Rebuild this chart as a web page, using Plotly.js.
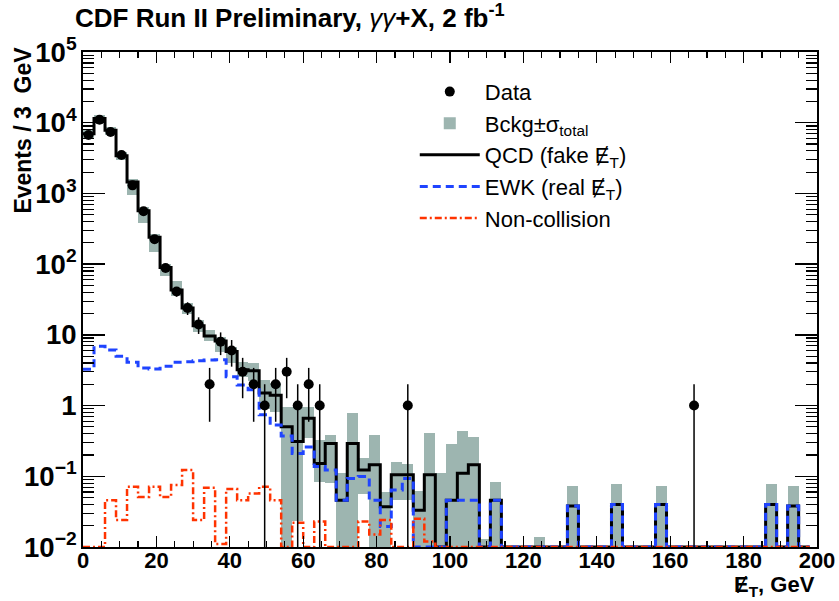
<!DOCTYPE html>
<html>
<head>
<meta charset="utf-8">
<script src="https://cdn.plot.ly/plotly-3.0.1.min.js"></script>
<style>html,body{margin:0;padding:0;background:#fff;}</style>
</head>
<body>
<div id="chart" style="width:839px;height:601px;"></div>
<script>
// ---- data (3 GeV bins, low edges 0..195, last edge 198) ----
const binEdges = [0,3,6,9,12,15,18,21,24,27,30,33,36,39,42,45,48,51,54,57,60,63,66,69,72,75,78,81,84,87,90,93,96,99,102,105,108,111,114,117,120,123,126,129,132,135,138,141,144,147,150,153,156,159,162,165,168,171,174,177,180,183,186,189,192,195,198];
const binCenters = [1.5,4.5,7.5,10.5,13.5,16.5,19.5,22.5,25.5,28.5,31.5,34.5,37.5,40.5,43.5,46.5,49.5,52.5,55.5,58.5,61.5,64.5,67.5,70.5,73.5,76.5,79.5,82.5,85.5,88.5,91.5,94.5,97.5,100.5,103.5,106.5,109.5,112.5,115.5,118.5,121.5,124.5,127.5,130.5,133.5,136.5,139.5,142.5,145.5,148.5,151.5,154.5,157.5,160.5,163.5,166.5,169.5,172.5,175.5,178.5,181.5,184.5,187.5,190.5,193.5,196.5];

// QCD (fake MET) histogram, drawn as the black solid line
const qcd = [7000,11500,7800,3400,1450,570,240,90,43,24,
  13.5,9.6,8.2,5.8,3.2,3.1,1.5,1.4,0.5,0.31,
  0.66,0.152,0.29,0.046,0.29,0.123,0.145,0.037,0.105,0.105,
  0.033,0.105,0,0.046,0.11,0.145,0,0.046,0,0,
  0,0,0,0,0.038,0,0,0,0.04,0,
  0,0,0.04,0,0,0,0,0,0,0,
  0,0,0.04,0,0.038,0];
// EWK (real MET)
const ewk = [3.26,6.9,6.1,5.0,4.1,3.4,3.3,3.6,4.1,4.15,
  4.3,4.4,4.45,2.56,1.95,1.67,0.74,0.53,0.37,0.21,
  0.26,0.137,0.123,0.046,0.093,0.099,0.046,0.0195,0.064,0.093,
  0,0,0,0.046,0.046,0.046,0,0.046,0,0,
  0,0,0,0,0.038,0,0,0,0.04,0,
  0,0,0.04,0,0,0,0,0,0,0,
  0,0,0.04,0,0.038,0];
// Non-collision
const noncoll = [0,0,0.046,0.024,0.071,0.051,0.071,0.051,0.075,0.123,
  0.024,0.069,0.011,0.066,0.046,0.057,0.071,0.046,0,0.022,
  0,0.023,0,0,0,0.023,0.015,0.024,0,0,
  0.025,0.012,0,0,0,0,0,0,0,0,
  0,0,0,0,0,0,0,0,0,0,
  0,0,0,0,0,0,0,0,0,0,
  0,0,0,0,0,0];
// Background +- sigma band: lower and upper edge per bin
const bandLow = [6000,10300,6700,2950,960,380,150,68,35,20,
  11,8.3,5.8,4.0,2.5,2.2,0.9,0.8,0,0.023,
  0.35,0.084,0.08,0,0,0.057,0,0,0.046,0.046,
  0,0,0,0,0,0,0,0,0,0,
  0,0,0,0,0,0,0,0,0,0,
  0,0,0,0,0,0,0,0,0,0,
  0,0,0,0,0,0];
const bandHigh = [7900,12800,8700,3800,1600,640,270,100,57,28,
  16,11.7,9.2,6.8,4.2,4.0,2.3,2.1,0.97,0.97,
  0.97,0.33,0.38,0.11,0.78,0.18,0.38,0.06,0.16,0.15,
  0.061,0.41,0.11,0.29,0.43,0.36,0.013,0.084,0,0,
  0,0.014,0,0,0.073,0,0,0,0.077,0,
  0,0,0.073,0,0,0,0,0,0,0,
  0,0,0.077,0,0.073,0];
// Data points
const dataX = [1.5,4.5,7.5,10.5,13.5,16.5,19.5,22.5,25.5,28.5,31.5,34.5,37.5,40.5,43.5,46.5,49.5,52.5,55.5,58.5,61.5,64.5,88.5,166.5];
const dataN = [6700,11000,7400,3500,1300,560,225,88,41,24,14,2,8,6,3,2,1,2,3,1,2,1,1,1];
const dataErr = [82,105,86,59,36,24,15,9.4,6.4,4.9,3.7,1.41,2.83,2.45,1.73,1.41,1,1.41,1.73,1,1.41,1,1,1];

// ---- helpers ----
const AXMIN = 0.01;
function stepY(vals){ const y = vals.map(v => v > 0 ? v : AXMIN); y.push(y[y.length-1]); return y; }

const bandBase = bandLow.map(v => v > 0 ? v : 1e-4);
const bandLen = bandHigh.map((h,i) => h > 0 ? h - bandBase[i] : null);

const traces = [
  {type:'bar', x: binCenters, y: bandLen, base: bandBase, width: 3,
   marker:{color:'#9db5b0', line:{width:0}}, name:'Bckg±σ<sub>total</sub>', legendrank:2, hoverinfo:'skip'},
  {type:'scatter', mode:'lines', x: binEdges, y: stepY(qcd), line:{shape:'hv', color:'#000', width:3},
   name:'QCD (fake Ɇ<sub>T</sub>)', legendrank:3},
  {type:'scatter', mode:'lines', x: binEdges, y: stepY(ewk), line:{shape:'hv', color:'#1f44ff', width:3, dash:'8px,5px'},
   name:'EWK (real Ɇ<sub>T</sub>)', legendrank:4},
  {type:'scatter', mode:'lines', x: binEdges, y: stepY(noncoll), line:{shape:'hv', color:'#ff3300', width:2.5, dash:'7px,3px,2px,3px'},
   name:'Non-collision', legendrank:5},
  {type:'scatter', mode:'markers', x: dataX, y: dataN, name:'Data', legendrank:1,
   marker:{color:'#000', size:10, symbol:'circle'},
   error_y:{type:'data', array: dataErr, visible:true, color:'#000', thickness:1.5, width:0}}
];

const FONT = 'Liberation Sans, Arial, DejaVu Sans, sans-serif';
const layout = {
  width:839, height:601,
  margin:{l:83, r:22, t:52, b:54},
  paper_bgcolor:'#fff', plot_bgcolor:'#fff',
  barmode:'overlay', bargap:0,
  showlegend:true,
  title:{text:'CDF Run II Preliminary, <span style="font-weight:normal"><i>γγ</i></span>+X, 2 fb<sup>-1</sup>',
    x:75/839, xanchor:'left', xref:'container', y:1-18/601, yanchor:'middle', yref:'container',
    font:{family:FONT, size:26, color:'#000', weight:'bold'}},
  xaxis:{range:[0,200], type:'linear', showgrid:false, zeroline:false,
    showline:true, linecolor:'#000', linewidth:2, mirror:'ticks',
    ticks:'inside', ticklen:11, tickwidth:1.3, tickcolor:'#000', dtick:20, tick0:0,
    ticklabelstandoff:-7,
    minor:{ticks:'inside', ticklen:6, dtick:5, tickwidth:1.2, tickcolor:'#000', showgrid:false},
    tickfont:{family:FONT, size:22, color:'#000', weight:'bold'}},
  yaxis:{type:'log', range:[-2,5], showgrid:false, zeroline:false,
    showline:true, linecolor:'#000', linewidth:2, mirror:'ticks',
    ticks:'inside', ticklen:22, tickwidth:1.3, tickcolor:'#000',
    tickmode:'linear', tick0:0, dtick:1, exponentformat:'power',
    minor:{ticks:'inside', ticklen:11, dtick:'D1', tickwidth:1.2, tickcolor:'#000', showgrid:false},
    tickfont:{family:FONT, size:22, color:'#000', weight:'bold'}},
  legend:{x:0.452, xanchor:'left', y:0.962, yanchor:'top', bgcolor:'rgba(0,0,0,0)',
    font:{family:FONT, size:22, color:'#000'}, itemwidth:60, tracegroupgap:0, traceorder:'normal'},
  annotations:[
    {xref:'paper', yref:'paper', x:-0.081, y:1.015, xanchor:'center', yanchor:'top', textangle:-90,
     text:'Events / 3  GeV', showarrow:false, font:{family:FONT, size:23, color:'#000', weight:'bold'}},
    {xref:'paper', yref:'paper', x:1.0, y:-0.111, xanchor:'right', yanchor:'bottom',
     text:'Ɇ<sub>T</sub>, GeV', showarrow:false, font:{family:FONT, size:22, color:'#000', weight:'bold'}}
  ]
};
Plotly.newPlot('chart', traces, layout, {displayModeBar:false, staticPlot:true});
</script>
</body>
</html>
